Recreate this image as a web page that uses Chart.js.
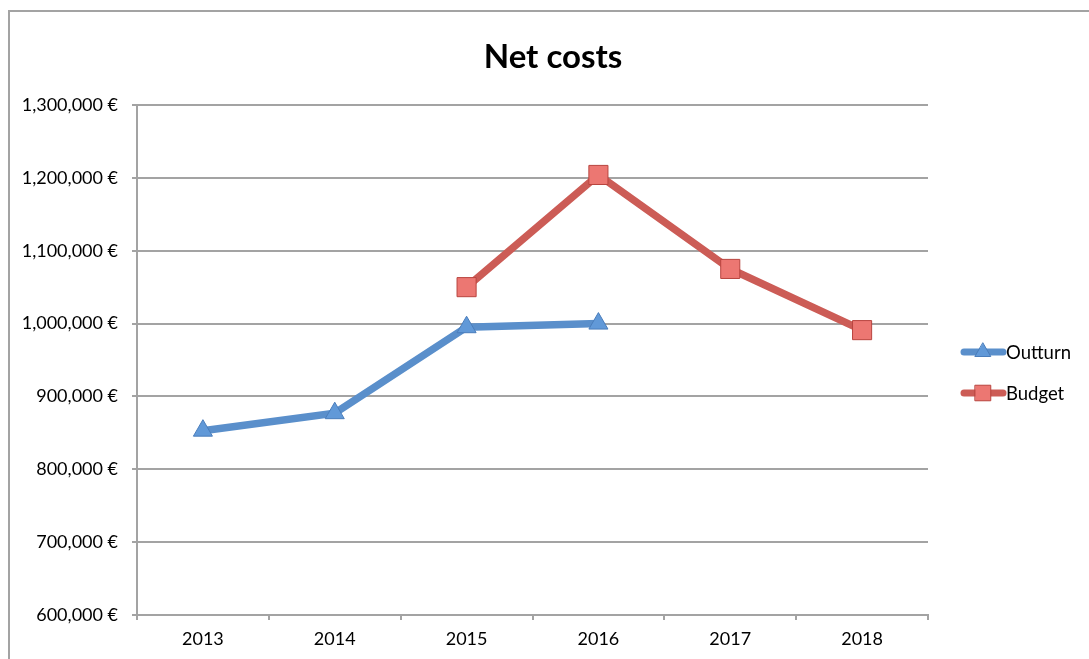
<!DOCTYPE html>
<html>
<head>
<meta charset="utf-8">
<script src="https://cdn.jsdelivr.net/npm/chart.js@4/dist/chart.umd.min.js"></script>
<style>
html, body { margin: 0; padding: 0; background: #fff; }
#wrap { width: 1089px; height: 659px; }
</style>
</head>
<body>
<div id="wrap"><canvas id="chart" width="1089" height="659"></canvas></div>
<script>
// data
const years = ["2013", "2014", "2015", "2016", "2017", "2018"];
const outturn = [853000, 877000, 995000, 1000000, null, null];
const budget = [null, null, 1050000, 1204000, 1075000, 991000];
const yMin = 600000;
const yMax = 1300000;
const yStep = 100000;
const chartTitle = "Net costs";

const FONT = "Lato, 'Open Sans', sans-serif";
const GRID = "#a3a3a3";

// frame round the chart (only top and left are in view)
const framePlugin = {
    id: "frame",
    beforeDraw(chart) {
        const ctx = chart.ctx;
        ctx.save();
        ctx.strokeStyle = GRID;
        ctx.lineWidth = 2;
        ctx.beginPath();
        ctx.moveTo(9, 659);
        ctx.lineTo(9, 11);
        ctx.lineTo(1089, 11);
        ctx.stroke();
        ctx.restore();
    }
};

// title + legend drawn by hand so they sit where the original has them
const textPlugin = {
    id: "texts",
    afterDraw(chart) {
        const ctx = chart.ctx;
        ctx.save();
        ctx.fillStyle = "#000";
        ctx.font = "bold 33px " + FONT;
        ctx.textAlign = "center";
        ctx.textBaseline = "middle";
        ctx.fillText(chartTitle, 553, 57);

        chart.data.datasets.forEach((ds, i) => {
            const y = 352 + i * 41;
            ctx.strokeStyle = ds.borderColor;
            ctx.lineWidth = 7;
            ctx.lineCap = "round";
            ctx.beginPath();
            ctx.moveTo(964, y);
            ctx.lineTo(1003, y);
            ctx.stroke();
            ctx.fillStyle = ds.pointBackgroundColor;
            ctx.strokeStyle = ds.pointBorderColor;
            ctx.lineWidth = 1;
            Chart.helpers.drawPoint(ctx, {
                pointStyle: ds.pointStyle,
                radius: ds.legendRadius,
                rotation: 0,
                borderWidth: 1
            }, 983, y);
            ctx.fillStyle = "#000";
            ctx.font = "18.5px " + FONT;
            ctx.textAlign = "left";
            ctx.fillText(ds.label, 1006, y + 1);
        });
        ctx.restore();
    }
};

new Chart(document.getElementById("chart"), {
    type: "line",
    data: {
        labels: years,
        datasets: [{
            label: "Outturn",
            data: outturn,
            borderColor: "#5a8fcb",
            borderWidth: 7.5,
            pointStyle: "triangle",
            pointRadius: 11,
            pointHoverRadius: 11,
            legendRadius: 9,
            pointBackgroundColor: "#6199d8",
            pointBorderColor: "#4a7dbb",
            pointBorderWidth: 1,
            tension: 0
        }, {
            label: "Budget",
            data: budget,
            borderColor: "#cc5c56",
            borderWidth: 7.5,
            pointStyle: "rect",
            pointRadius: 13.5,
            pointHoverRadius: 13.5,
            legendRadius: 11,
            pointBackgroundColor: "#ec7772",
            pointBorderColor: "#b9453f",
            pointBorderWidth: 1,
            tension: 0
        }]
    },
    options: {
        responsive: false,
        animation: false,
        spanGaps: false,
        layout: { padding: { left: 0, top: 105, right: 161, bottom: 0 } },
        plugins: {
            legend: { display: false },
            title: { display: false },
            tooltip: { enabled: false }
        },
        scales: {
            x: {
                offset: true,
                grid: {
                    offset: true,
                    drawOnChartArea: false,
                    drawTicks: true,
                    tickLength: 5,
                    color: GRID,
                    lineWidth: 2
                },
                border: { display: true, color: GRID, width: 2 },
                ticks: { color: "#000", font: { family: FONT, size: 18 }, padding: 8 },
                afterFit(scale) { scale.height = 44; }
            },
            y: {
                min: yMin,
                max: yMax,
                grid: { color: GRID, lineWidth: 2, tickLength: 5 },
                border: { display: true, color: GRID, width: 2 },
                ticks: {
                    stepSize: yStep,
                    color: "#000",
                    font: { family: FONT, size: 18 },
                    padding: 14,
                    callback: (v) => v.toLocaleString("en-US") + " €"
                },
                afterFit(scale) { scale.width = 137; }
            }
        }
    },
    plugins: [framePlugin, textPlugin]
});
</script>
</body>
</html>
